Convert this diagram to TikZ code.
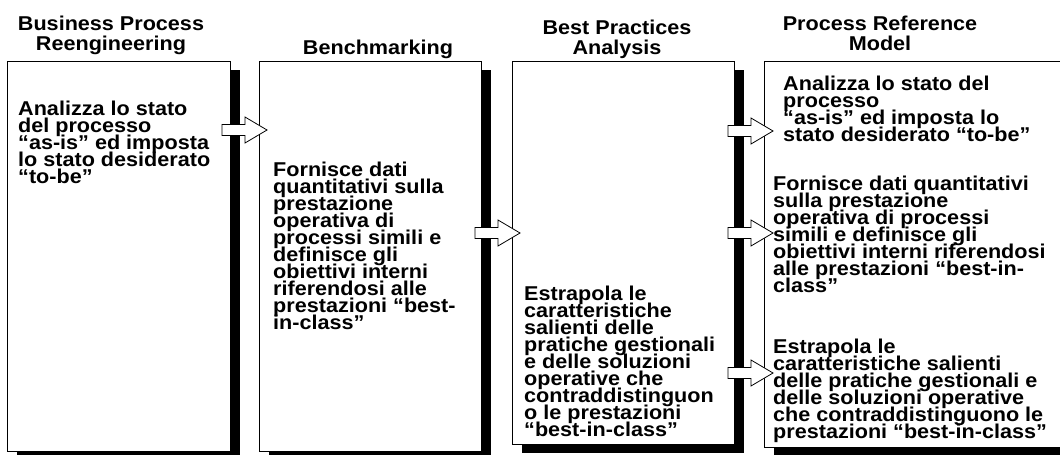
\documentclass[tikz,border=0pt]{standalone}
\usepackage{fontspec}
\setmainfont{Liberation Sans}[FakeStretch=1.08]
\newcommand\fixedleading{\lineskiplimit=-100pt\relax\lineskip=0pt\relax}
\begin{document}
\begin{tikzpicture}[x=1pt,y=-1pt,
  panel/.style={draw=black,line width=1pt,fill=white},
  heading/.style={font={\bfseries\fontsize{20}{20}\selectfont\fixedleading},align=center,inner sep=0pt,anchor=north},
  bodytext/.style={font={\bfseries\fontsize{20}{17}\selectfont\fixedleading},align=left,inner sep=0pt,anchor=north west},
  blockarrow/.pic={\draw[line width=0.8pt,fill=white,line join=miter]
      (0,-5.5) -- (23,-5.5) -- (23,-13) -- (45,0) -- (23,13) -- (23,5.5) -- (0,5.5) -- cycle;}
]
\useasboundingbox (0,0) rectangle (1060,455);
\fill[white] (0,0) rectangle (1060,455);
\begin{scope}
\clip (0,0) rectangle (1060,455);

% four panels, each with a solid shadow offset to the lower right
\foreach \l/\r/\b in {7/230/451, 259/481/451, 512/734/444, 764/1075/447}{
  \fill[black] (\l+10,70) rectangle (\r+10,\b+9);
  \draw[panel] (\l,61) rectangle (\r,\b);
}

% column headings
\node[heading] (h1) at (111,15.7) {Business Process\\Reengineering};
\node[heading] (h2) at (378,39.7) {Benchmarking};
\node[heading] (h3) at (617,19.7) {Best Practices\\Analysis};
\node[heading] (h4) at (880,15.7) {Process Reference\\Model};

% panel texts
\node[bodytext] (t1) at (18,100.7) {Analizza lo stato\\del processo\\“as-is” ed imposta\\lo stato desiderato\\“to-be”};
\node[bodytext] (t2) at (273,161.7) {Fornisce dati\\quantitativi sulla\\prestazione\\operativa di\\processi simili e\\definisce gli\\obiettivi interni\\riferendosi alle\\prestazioni “best-\\in-class”};
\node[bodytext] (t3) at (524,285.7) {Estrapola le\\caratteristiche\\salienti delle\\pratiche gestionali\\e delle soluzioni\\operative che\\contraddistinguon\\o le prestazioni\\“best-in-class”};
\node[bodytext] (t4a) at (783,76.1) {Analizza lo stato del\\processo\\“as-is” ed imposta lo\\stato desiderato “to-be”};
\node[bodytext] (t4b) at (773,175.7) {Fornisce dati quantitativi\\sulla prestazione\\operativa di processi\\simili e definisce gli\\obiettivi interni riferendosi\\alle prestazioni “best-in-\\class”};
\node[bodytext] (t4c) at (773,338.7) {Estrapola le\\caratteristiche salienti\\delle pratiche gestionali e\\delle soluzioni operative\\che contraddistinguono le\\prestazioni “best-in-class”};

% flow arrows between the panels
\pic at (222,130) {blockarrow};
\pic at (475,233) {blockarrow};
\pic at (728,131) {blockarrow};
\pic at (728,233) {blockarrow};
\pic at (728,373) {blockarrow};
\end{scope}
\end{tikzpicture}
\end{document}
